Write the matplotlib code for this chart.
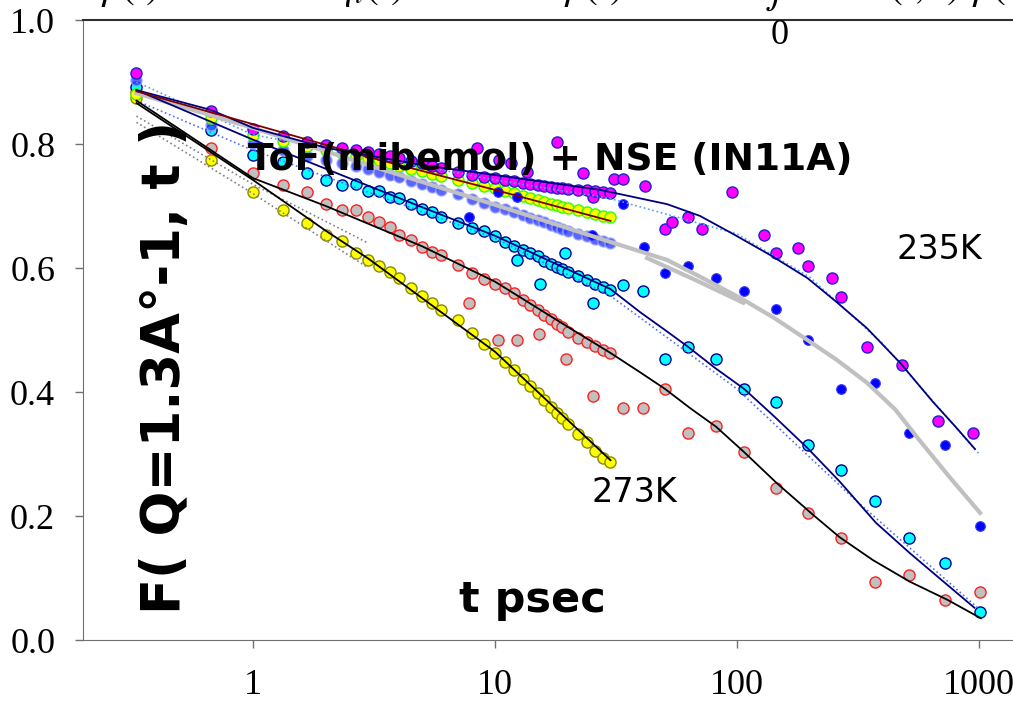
import matplotlib.pyplot as plt

plt.rcParams["mathtext.fontset"] = "stix"

# ToF time channels (psec), shared by the dense chains
tof_t = [0.33, 0.67, 1.0, 1.33, 1.67, 2.0, 2.33, 2.67, 3.0, 3.33, 3.67, 4.0,
         4.5, 5.0, 5.5, 6.0, 7.0, 8.0, 9.0, 10, 11, 12, 13, 14, 15, 16, 17,
         18, 19, 20, 22, 24, 26, 28, 30]

# ToF data, F(Q,t), one list per temperature
tof_magenta = [0.915, 0.853, 0.824, 0.813, 0.803, 0.798, 0.794, 0.790, 0.787,
               0.784, 0.781, 0.777, 0.773, 0.769, 0.765, 0.761, 0.755, 0.750,
               0.747, 0.745, 0.742, 0.740, 0.737, 0.735, 0.734, 0.732, 0.731,
               0.729, 0.729, 0.727, 0.726, 0.726, 0.724, 0.723, 0.721]
tof_blue = [0.903, 0.831, 0.802, 0.790, 0.781, 0.774, 0.769, 0.765, 0.760,
            0.755, 0.750, 0.747, 0.740, 0.735, 0.731, 0.726, 0.719, 0.711,
            0.705, 0.698, 0.695, 0.690, 0.685, 0.681, 0.677, 0.674, 0.669,
            0.666, 0.663, 0.660, 0.655, 0.652, 0.647, 0.644, 0.640]
tof_green = [0.880, 0.842, 0.815, 0.805, 0.797, 0.790, 0.785, 0.781, 0.777,
             0.774, 0.769, 0.765, 0.760, 0.756, 0.752, 0.748, 0.742, 0.737,
             0.732, 0.729, 0.724, 0.721, 0.716, 0.713, 0.710, 0.706, 0.703,
             0.702, 0.698, 0.697, 0.694, 0.690, 0.687, 0.684, 0.682]
tof_cyan = [0.892, 0.823, 0.782, 0.771, 0.753, 0.742, 0.734, 0.735, 0.724,
            0.724, 0.715, 0.713, 0.703, 0.695, 0.690, 0.682, 0.673, 0.665,
            0.660, 0.652, 0.642, 0.635, 0.629, 0.624, 0.619, 0.611, 0.606,
            0.602, 0.598, 0.594, 0.587, 0.581, 0.574, 0.569, 0.565]
tof_red = [0.884, 0.794, 0.753, 0.734, 0.723, 0.703, 0.694, 0.694, 0.682,
           0.674, 0.666, 0.653, 0.645, 0.634, 0.626, 0.621, 0.605, 0.592,
           0.582, 0.574, 0.568, 0.560, 0.548, 0.540, 0.532, 0.524, 0.518,
           0.510, 0.505, 0.497, 0.487, 0.481, 0.474, 0.468, 0.463]
tof_yellow = [0.874, 0.774, 0.723, 0.694, 0.673, 0.653, 0.644, 0.624, 0.613,
              0.603, 0.594, 0.584, 0.568, 0.555, 0.544, 0.532, 0.516, 0.495,
              0.477, 0.463, 0.448, 0.435, 0.421, 0.410, 0.398, 0.387, 0.376,
              0.366, 0.358, 0.348, 0.332, 0.319, 0.305, 0.294, 0.287]

# NSE (IN11A) points
nse_magenta_t = [8.43, 10.4, 11.6, 13.6, 18.0, 23.1, 25.4, 31.0, 33.8, 41.7,
                 50.4, 53.9, 62.7, 71.7, 95.3, 129, 145, 179, 196, 247, 269,
                 344, 481, 677, 944]
nse_magenta = [0.794, 0.774, 0.769, 0.755, 0.803, 0.753, 0.715, 0.744, 0.744,
               0.732, 0.663, 0.674, 0.682, 0.663, 0.723, 0.653, 0.624, 0.632,
               0.603, 0.584, 0.553, 0.473, 0.444, 0.353, 0.334]
nse_blue_t = [7.81, 10.3, 12.3, 25.2, 33.8, 41.2, 50.4, 62.7, 81.9, 107, 145,
              196, 269, 372, 514, 724, 1010]
nse_blue = [0.682, 0.723, 0.715, 0.653, 0.703, 0.634, 0.592, 0.603, 0.584,
            0.563, 0.534, 0.484, 0.405, 0.415, 0.334, 0.315, 0.184]
nse_cyan_t = [12.3, 15.3, 19.5, 25.4, 33.8, 40.9, 50.4, 62.7, 81.9, 107, 145,
              196, 269, 372, 514, 724, 1010]
nse_cyan = [0.613, 0.574, 0.624, 0.544, 0.573, 0.563, 0.453, 0.473, 0.453,
            0.405, 0.384, 0.315, 0.274, 0.224, 0.165, 0.124, 0.045]
nse_red_t = [7.81, 10.3, 12.3, 15.2, 19.7, 25.4, 33.8, 40.9, 50.4, 62.7, 81.9,
             107, 145, 196, 269, 372, 514, 724, 1010]
nse_red = [0.544, 0.484, 0.484, 0.494, 0.453, 0.394, 0.374, 0.374, 0.405,
           0.334, 0.345, 0.303, 0.245, 0.205, 0.165, 0.094, 0.105, 0.065, 0.077]

# fits
fit_magenta_t = [0.33, 0.67, 1, 2, 5, 10, 27.2, 51.4, 70.3, 96.2, 137, 195,
                 258, 344, 472, 645, 795, 962]
fit_magenta = [0.887, 0.855, 0.826, 0.794, 0.766, 0.750, 0.726, 0.703, 0.684,
               0.655, 0.621, 0.584, 0.545, 0.503, 0.447, 0.384, 0.345, 0.308]
fit_blue_t = [0.33, 1, 3, 10, 30, 51.4, 70.3, 105, 143, 195, 258, 344, 450,
              568, 758, 1010]
fit_blue = [0.882, 0.826, 0.766, 0.702, 0.642, 0.613, 0.586, 0.550, 0.519,
            0.484, 0.452, 0.415, 0.372, 0.322, 0.262, 0.205]
fit_blue2_t = [42.5, 67, 106]
fit_blue2 = [0.616, 0.581, 0.544]
fit_green_t = [0.33, 1, 3, 10, 30]
fit_green = [0.885, 0.832, 0.779, 0.726, 0.676]
fit_cyan_t = [0.33, 1, 2, 5, 10, 30, 39.7, 50.4, 62.7, 81, 107, 143, 195, 265,
              375, 518, 739, 957]
fit_cyan = [0.887, 0.807, 0.760, 0.698, 0.652, 0.566, 0.529, 0.500, 0.473,
            0.439, 0.405, 0.360, 0.310, 0.256, 0.189, 0.140, 0.089, 0.052]
fit_red_t = [0.33, 1, 2, 5, 10, 20, 30, 39.7, 50.4, 64, 81.9, 107, 146, 206,
             265, 364, 518, 739, 1018]
fit_red = [0.870, 0.745, 0.700, 0.635, 0.578, 0.505, 0.463, 0.432, 0.405,
           0.374, 0.344, 0.303, 0.253, 0.202, 0.166, 0.129, 0.094, 0.065, 0.035]
fit_yellow_t = [0.33, 1, 2, 3, 10, 30]
fit_yellow = [0.866, 0.742, 0.660, 0.615, 0.465, 0.290]

# dotted alternative fits
dot_magenta_t = [0.33, 1, 10, 30, 100, 200, 400, 1000]
dot_magenta = [0.900, 0.815, 0.742, 0.712, 0.655, 0.585, 0.478, 0.300]
dot_cyan_t = [0.33, 1, 10, 30, 100, 300, 1000]
dot_cyan = [0.870, 0.790, 0.648, 0.555, 0.405, 0.230, 0.050]
dot_red_t = [0.33, 1, 3]
dot_red = [0.845, 0.735, 0.640]
dot_yellow_t = [0.33, 1, 3]
dot_yellow = [0.835, 0.720, 0.600]

fig = plt.figure(figsize=(10.13, 7.02), dpi=100)
ax = fig.add_axes([0.0819, 0.0883, 0.9181, 0.8832])

ms = 8
ax.plot(nse_red_t, nse_red, "o", ms=ms, mfc="#c0c0c0", mec="#ff2020", mew=1)
ax.plot(tof_t, tof_yellow, "o", ms=ms, mfc="#ffff00", mec="#8a8a00", mew=1)
ax.plot(tof_t, tof_red, "o", ms=ms, mfc="#c0c0c0", mec="#ff2020", mew=1)
ax.plot(nse_cyan_t, nse_cyan, "o", ms=ms, mfc="#00ffff", mec="#000090", mew=1)
ax.plot(tof_t, tof_cyan, "o", ms=ms, mfc="#00ffff", mec="#000090", mew=1)
ax.plot(tof_t, tof_blue, "o", ms=ms, mfc="#3040ff", mec="#a0a8ff", mew=1, alpha=0.8)
ax.plot(tof_t, tof_green, "o", ms=ms, mfc="#ffff00", mec="#30ff00", mew=1)
ax.plot(nse_magenta_t, nse_magenta, "o", ms=ms, mfc="#ff00ff", mec="#2020d0", mew=1)
ax.plot(tof_t, tof_magenta, "o", ms=ms, mfc="#ff00ff", mec="#2020d0", mew=1)
ax.plot(nse_blue_t, nse_blue, "o", ms=7, mfc="#0000ff", mec="#4040ff", mew=0.8)

ax.plot(dot_magenta_t, dot_magenta, ":", color="#4f9fff", lw=1.2)
ax.plot(dot_cyan_t, dot_cyan, ":", color="#4f6fff", lw=1.2)
ax.plot(dot_red_t, dot_red, ":", color="#808080", lw=1.2)
ax.plot(dot_yellow_t, dot_yellow, ":", color="#808080", lw=1.2)

ax.plot(fit_blue_t, fit_blue, "-", color="#c0c0c0", lw=3)
ax.plot(fit_blue2_t, fit_blue2, "-", color="#c0c0c0", lw=3)
ax.plot(fit_magenta_t, fit_magenta, "-", color="#000080", lw=1.3)
ax.plot(fit_cyan_t, fit_cyan, "-", color="#000080", lw=1.3)
ax.plot(fit_green_t, fit_green, "-", color="#800000", lw=1.3)
ax.plot(fit_red_t, fit_red, "-", color="black", lw=1.3)
ax.plot(fit_yellow_t, fit_yellow, "-", color="black", lw=1.3)

ax.set_xscale("log")
ax.set_xlim(0.1984, 1381)
ax.set_ylim(0, 1)
ax.set_xticks([1, 10, 100, 1000])
ax.set_xticklabels(["1", "10", "100", "1000"])
ax.minorticks_off()
ax.set_yticks([0.0, 0.2, 0.4, 0.6, 0.8, 1.0])
ax.set_yticklabels(["0.0", "0.2", "0.4", "0.6", "0.8", "1.0"])
for lab in ax.get_xticklabels() + ax.get_yticklabels():
    lab.set_fontfamily("Liberation Serif")
    lab.set_fontsize(26)
ax.tick_params(axis="both", direction="out", length=6, width=1, color="#707070")
ax.tick_params(axis="y", pad=14)
ax.tick_params(axis="x", pad=15)
ax.spines["right"].set_visible(False)
ax.spines["left"].set_color("#707070")
ax.spines["bottom"].set_color("#707070")
ax.spines["top"].set_color("#303030")
ax.spines["top"].set_linewidth(1.5)

ax.text(0.163, 0.476, "F( Q=1.3A°-1, t )", transform=fig.transFigure, rotation=90,
        ha="center", va="center", fontsize=38, fontweight="bold")
ax.text(0.526, 0.145, "t psec", transform=fig.transFigure, ha="center", va="center",
        fontsize=31, fontweight="bold")
ax.text(0.543, 0.772, "ToF(mibemol) + NSE (IN11A)", transform=fig.transFigure,
        ha="center", va="center", fontsize=27, fontweight="bold")
ax.text(0.927, 0.644, "235K", transform=fig.transFigure, ha="center", va="center",
        fontsize=24)
ax.text(0.626, 0.298, "273K", transform=fig.transFigure, ha="center", va="center",
        fontsize=24)

# formula cut off at the top edge
for xf, s in [(0.125, r"$\phi(t)$"), (0.365, r"$\eta_l(t)$"), (0.575, r"$t\,\phi(t)$"),
              (0.768, r"$\int$"), (0.935, r"$(t,\tau)\,\phi($")]:
    fig.text(xf, 1.003, s, ha="center", va="baseline", fontsize=30)
fig.text(0.770, 0.95, "0", ha="center", va="center", fontsize=26,
         fontfamily="Liberation Serif")

fig.savefig("out.png", dpi=100)
